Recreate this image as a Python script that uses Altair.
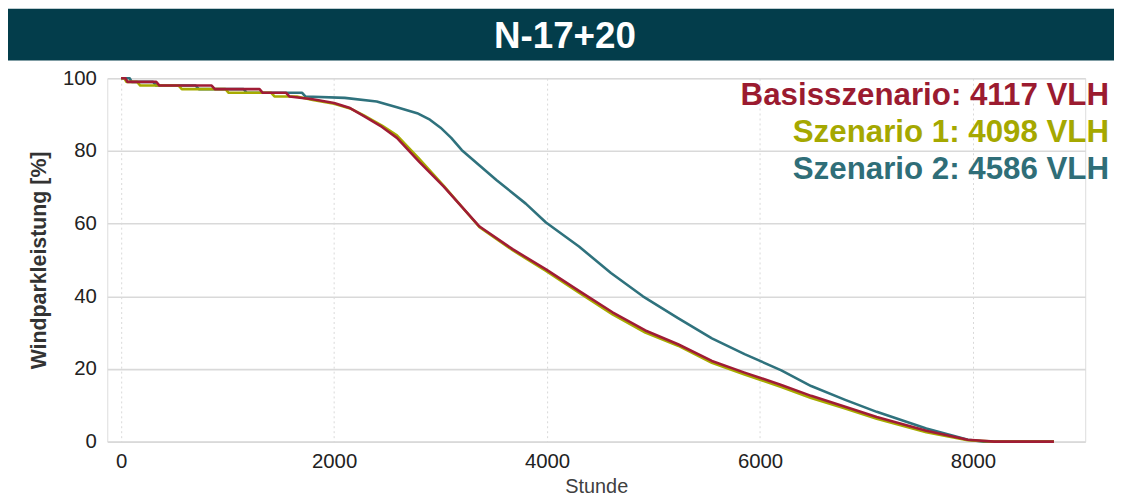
import altair as alt
import pandas as pd

# ---- data ----
series_names = ["Szenario 2", "Szenario 1", "Basisszenario"]
series_colors = ["#2f727d", "#a7ab00", "#a01c35"]

basis_x = [0, 40, 60, 330, 360, 850, 880, 1300, 1330, 1550, 1580, 1800, 2000, 2150, 2280, 2450, 2590,
           2800, 3030, 3366, 3680, 3990, 4300, 4615, 4923, 5230, 5548, 5855, 6200, 6480, 6800, 7096,
           7562, 7950, 8200, 8760]
basis_y = [100, 100, 99, 99, 98, 98, 97, 97, 96, 96, 95, 94.2, 93.2, 91.8, 89.6, 86.6, 83.6,
           77.0, 70.2, 59.2, 52.9, 47.4, 41.5, 35.6, 30.6, 26.8, 22.2, 19.0, 15.6, 12.6, 9.6, 6.8,
           3.0, 0.5, 0.0, 0.0]

sz1_x = [0, 30, 50, 150, 180, 540, 570, 980, 1010, 1410, 1440, 1650, 1800, 2000, 2150, 2280, 2450,
         2590, 2800, 3030, 3366, 3680, 3990, 4300, 4615, 4923, 5230, 5548, 5855, 6200, 6480, 6800,
         7096, 7562, 7950, 8200, 8760]
sz1_y = [100, 100, 99, 99, 98, 98, 97, 97, 96, 96, 95, 95, 94.0, 93.0, 91.7, 89.8, 87.0,
         84.3, 77.8, 70.4, 59.0, 52.6, 47.0, 41.0, 35.0, 30.0, 26.4, 21.7, 18.5, 15.0, 12.0, 9.1,
         6.3, 2.6, 0.4, 0.0, 0.0]

sz2_x = [0, 80, 100, 300, 330, 700, 730, 1150, 1180, 1700, 1730, 2100, 2400, 2590, 2780, 2900,
         3000, 3100, 3200, 3524, 3800, 3990, 4300, 4600, 4900, 5230, 5548, 5855, 6200, 6480, 6800,
         7096, 7562, 7953, 8100, 8760]
sz2_y = [100, 100, 99, 99, 98, 98, 97, 97, 96, 96, 95, 94.6, 93.6, 92.0, 90.4, 88.6,
         86.4, 83.6, 80.2, 72.0, 65.5, 60.3, 53.7, 46.4, 40.0, 34.0, 28.4, 24.1, 19.6, 15.3, 11.5,
         8.2, 3.6, 0.5, 0.0, 0.0]

legend_texts = ["Basisszenario: 4117 VLH", "Szenario 1: 4098 VLH", "Szenario 2: 4586 VLH"]
legend_colors = ["#9b1b30", "#a5a800", "#2f6e78"]
title_text = "N-17+20"
x_ticks = [0, 2000, 4000, 6000, 8000]
y_ticks = [0, 20, 40, 60, 80, 100]

rows = []
for name, xs, ys in [("Szenario 2", sz2_x, sz2_y), ("Szenario 1", sz1_x, sz1_y),
                     ("Basisszenario", basis_x, basis_y)]:
    for i, (xv, yv) in enumerate(zip(xs, ys)):
        rows.append({"series": name, "Stunde": xv, "Leistung": yv, "idx": i})
df = pd.DataFrame(rows)

FONT = "Liberation Sans"
W, H = 985, 366

lines = alt.Chart(df).mark_line(strokeWidth=2.6, strokeJoin="round").encode(
    x=alt.X("Stunde:Q",
            scale=alt.Scale(domain=[-130, 9054], nice=False, zero=False),
            axis=alt.Axis(values=x_ticks, title="Stunde", grid=True, gridDash=[2, 3],
                          gridColor="#d9d9d9", gridWidth=1, domain=False, ticks=False,
                          labelFontSize=20.5, labelColor="#222222", labelFont=FONT,
                          labelPadding=10, titleFont=FONT, titleFontSize=20,
                          titleFontWeight="normal", titleColor="#404040", titlePadding=5,
                          format="d")),
    y=alt.Y("Leistung:Q",
            scale=alt.Scale(domain=[0, 100], nice=False),
            axis=alt.Axis(values=y_ticks, title="Windparkleistung [%]", grid=True,
                          gridColor="#d9d9d9", gridWidth=1.6, domain=False, ticks=False,
                          labelFontSize=20.5, labelColor="#222222", labelFont=FONT,
                          labelPadding=11, titleFont=FONT, titleFontSize=21.5,
                          titleFontWeight="bold", titleColor="#333333", titlePadding=12)),
    color=alt.Color("series:N", scale=alt.Scale(domain=series_names, range=series_colors),
                    legend=None),
    detail="series:N",
    order=alt.Order("idx:Q"),
)

one = alt.Data(values=[{}])

bar = alt.Chart(one).mark_rect(color="#033d4b").encode(
    x=alt.value(-100), x2=alt.value(1014), y=alt.value(-70), y2=alt.value(-18))

title = alt.Chart(one).mark_text(
    text=title_text, font=FONT, fontSize=37, fontWeight="bold", color="white",
    align="center", baseline="alphabetic").encode(x=alt.value(461), y=alt.value(-30))

legend_layers = []
for t, c, yy in zip(legend_texts, legend_colors, [27, 64, 101]):
    legend_layers.append(
        alt.Chart(one).mark_text(text=t, font=FONT, fontSize=31.5, fontWeight="bold", color=c,
                                 align="right", baseline="alphabetic").encode(
            x=alt.value(1009), y=alt.value(yy)))

chart = alt.layer(bar, lines, title, *legend_layers).properties(
    width=W, height=H,
    padding={"left": 100, "top": 69, "right": 29, "bottom": 55},
    autosize=alt.AutoSizeParams(type="none"),
).configure_view(stroke=None).configure(background="white")

chart.save("out.html", embed_options={"renderer": "svg", "actions": False})
